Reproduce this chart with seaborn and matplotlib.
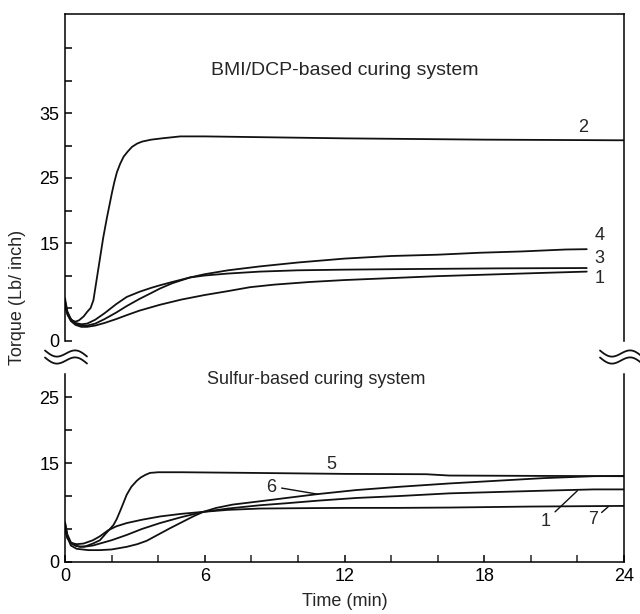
import numpy as np
import pandas as pd
import matplotlib
matplotlib.use("Agg")
import matplotlib.pyplot as plt
from matplotlib.lines import Line2D
from matplotlib.ticker import FixedLocator, FixedFormatter
import seaborn as sns

# ---------------- data ----------------
# BMI/DCP-based curing system (top panel)
t_top2 = [0, 0.15, 0.3, 0.45, 0.6, 0.8, 0.95, 1.1, 1.22, 1.43, 1.64, 1.8, 1.93, 2.02, 2.12,
          2.23, 2.37, 2.52, 2.7, 2.88, 3.1, 3.31, 3.7, 4.16, 4.95, 6, 8, 10, 12, 15, 18, 21, 24]
y_top2 = [5.2, 3.8, 3.1, 2.9, 3.1, 3.7, 4.4, 5.0, 6.2, 11.0, 15.8, 18.9, 21.2, 22.8, 24.4,
          25.9, 27.2, 28.3, 29.1, 29.8, 30.3, 30.6, 30.9, 31.1, 31.4, 31.4, 31.3, 31.2, 31.1,
          31.0, 30.9, 30.85, 30.8]

t_top4 = [0, 0.1, 0.25, 0.45, 0.7, 0.95, 1.3, 1.7, 2.2, 2.65, 3.2, 3.7, 4.08, 4.6, 5.37, 6,
          7, 8.37, 10, 12, 14, 16, 17.8, 19.6, 21.5, 22.4]
y_top4 = [6.5, 4.5, 3.3, 2.6, 2.3, 2.3, 2.6, 3.3, 4.3, 5.3, 6.4, 7.3, 8.0, 8.8, 9.7, 10.2,
          10.8, 11.4, 12.0, 12.6, 13.0, 13.2, 13.5, 13.7, 14.0, 14.05]

t_top3 = [0, 0.1, 0.25, 0.45, 0.7, 0.95, 1.3, 1.7, 2.2, 2.65, 3.2, 3.7, 4.08, 4.6, 5.37, 6,
          7, 8.37, 10, 12, 15, 18.7, 22.4]
y_top3 = [6.0, 4.3, 3.2, 2.7, 2.5, 2.6, 3.2, 4.2, 5.6, 6.7, 7.5, 8.1, 8.5, 9.0, 9.7, 10.0,
          10.3, 10.6, 10.8, 10.9, 11.0, 11.1, 11.15]

t_top1 = [0, 0.1, 0.25, 0.45, 0.7, 0.95, 1.3, 1.7, 2.2, 2.65, 3.2, 4.08, 5, 6, 7, 7.94, 9,
          10.5, 12, 14, 16, 18.7, 20.5, 22.4]
y_top1 = [5.5, 4.0, 3.0, 2.4, 2.1, 2.1, 2.3, 2.7, 3.3, 3.9, 4.6, 5.5, 6.3, 7.0, 7.6, 8.2, 8.6,
          9.0, 9.3, 9.6, 9.9, 10.2, 10.4, 10.6]

# Sulfur-based curing system (bottom panel)
t_bot5 = [0, 0.1, 0.25, 0.45, 0.64, 0.9, 1.2, 1.5, 1.75, 1.93, 2.08, 2.22, 2.4, 2.65, 2.85,
          3.08, 3.25, 3.45, 3.65, 4, 5, 8, 12, 15.5, 16.5, 20, 24]
y_bot5 = [6.0, 4.2, 3.0, 2.5, 2.3, 2.4, 2.8, 3.3, 4.3, 5.0, 5.6, 6.5, 8.0, 10.2, 11.4, 12.3,
          12.8, 13.2, 13.5, 13.6, 13.6, 13.5, 13.35, 13.3, 13.1, 13.05, 13.0]

t_bot6 = [0, 0.1, 0.25, 0.5, 1.0, 1.5, 2.0, 2.65, 3.1, 3.5, 4.08, 4.5, 5.0, 5.5, 5.94, 6.5,
          7.2, 8.37, 9.5, 10.88, 12.5, 14.38, 16.5, 18.5, 20.5, 22.7, 24]
y_bot6 = [6.0, 3.8, 2.5, 2.0, 1.8, 1.8, 1.9, 2.3, 2.7, 3.2, 4.3, 5.1, 6.0, 6.9, 7.6, 8.2, 8.7,
          9.2, 9.7, 10.3, 10.9, 11.4, 11.9, 12.3, 12.7, 13.0, 13.05]

t_bot1 = [0, 0.1, 0.25, 0.5, 0.8, 1.2, 1.6, 2.0, 2.65, 3.3, 4.08, 5.0, 5.94, 7.0, 8.37, 9.5,
          10.88, 12.5, 14.38, 16.5, 18.5, 20.5, 22.7, 24]
y_bot1 = [5.5, 3.8, 2.8, 2.4, 2.3, 2.5, 2.9, 3.3, 4.1, 5.0, 5.9, 6.8, 7.6, 8.1, 8.6, 8.9, 9.3,
          9.7, 10.0, 10.4, 10.6, 10.8, 11.0, 11.0]

t_bot7 = [0, 0.1, 0.25, 0.5, 0.8, 1.2, 1.5, 1.85, 2.2, 2.65, 3.3, 4.08, 5.0, 5.94, 7.0, 8.37,
          10, 12, 14.38, 16.5, 20, 24]
y_bot7 = [5.0, 3.6, 2.9, 2.7, 2.8, 3.3, 3.9, 4.8, 5.4, 5.9, 6.4, 6.9, 7.3, 7.6, 7.9, 8.1, 8.15,
          8.2, 8.2, 8.25, 8.4, 8.5]

x_major = [0, 6, 12, 18, 24]
top_yticks = [0, 5, 10, 15, 20, 25, 30, 35, 40, 45]
top_ylabels = ["0", "", "", "15", "", "25", "", "35", "", ""]
bot_yticks = [0, 5, 10, 15, 20, 25]
bot_ylabels = ["0", "", "", "15", "", "25"]

top_title = "BMI/DCP-based curing system"
bot_title = "Sulfur-based curing system"
xlabel = "Time (min)"
ylabel = "Torque (Lb/ inch)"

# ---------------- style ----------------
sns.set_style("ticks")
plt.rcParams["font.family"] = ["Liberation Sans", "DejaVu Sans"]
plt.rcParams["font.size"] = 13

W, H = 640, 614
fig = plt.figure(figsize=(W / 100, H / 100), dpi=100)

def fx(px):
    return px / W

def fy(py):
    return 1 - py / H

# top axes: y=0 at py 340.5, 6.5 px/unit, top frame at py 14
top_ylim = (0, (340.5 - 14) / 6.5)
ax_t = fig.add_axes([fx(65), fy(340.5), fx(624) - fx(65), fy(14) - fy(340.5)])
# bottom axes: y=0 at py 562, 6.6 px/unit
bot_top_val = 28.5
ax_b = fig.add_axes([fx(65), fy(562), fx(624) - fx(65), bot_top_val * 6.6 / H])

lw = 1.3
col = "#111111"
for t, y in [(t_top2, y_top2), (t_top4, y_top4), (t_top3, y_top3), (t_top1, y_top1)]:
    sns.lineplot(x=t, y=y, ax=ax_t, color=col, lw=lw, estimator=None, sort=False)
for t, y in [(t_bot5, y_bot5), (t_bot6, y_bot6), (t_bot1, y_bot1), (t_bot7, y_bot7)]:
    sns.lineplot(x=t, y=y, ax=ax_b, color=col, lw=lw, estimator=None, sort=False)

for ax in (ax_t, ax_b):
    ax.set_xlim(0, 24)
    for s in ax.spines.values():
        s.set_linewidth(1.1)
        s.set_color("black")
    ax.tick_params(direction="in", length=5, width=1.1, colors="black", labelsize=13, pad=4)

ax_t.set_ylim(*top_ylim)
ax_t.spines["bottom"].set_visible(False)
ax_t.set_xticks([])
ax_t.yaxis.set_major_locator(FixedLocator(top_yticks))
ax_t.yaxis.set_major_formatter(FixedFormatter(top_ylabels))

ax_b.set_ylim(0, bot_top_val)
ax_b.spines["top"].set_visible(False)
ax_b.set_xticks(x_major)
ax_b.set_xticklabels([str(v) for v in x_major])
ax_b.set_xticks(np.arange(0, 25, 2), minor=True)
ax_b.tick_params(axis="x", which="minor", direction="in", length=5, width=1.1)
ax_b.yaxis.set_major_locator(FixedLocator(bot_yticks))
ax_b.yaxis.set_major_formatter(FixedFormatter(bot_ylabels))

for ax in (ax_t, ax_b):
    ax.set_xlabel("")
    ax.set_ylabel("")

# panel titles
ax_t.text(12.0, 41.5, top_title, ha="center", va="center", fontsize=14)
ax_b.text(10.8, 27.6, bot_title, ha="center", va="center", fontsize=13, clip_on=False)

# curve labels
ax_t.text(22.24, 32.7, "2", ha="center", va="center", fontsize=13)
ax_t.text(22.95, 16.2, "4", ha="center", va="center", fontsize=13)
ax_t.text(22.95, 12.6, "3", ha="center", va="center", fontsize=13)
ax_t.text(22.95, 9.6, "1", ha="center", va="center", fontsize=13)

ax_b.text(11.45, 14.7, "5", ha="center", va="center", fontsize=13)
ax_b.text(8.87, 11.3, "6", ha="center", va="center", fontsize=13)
ax_b.plot([9.3, 10.88], [11.2, 10.26], color=col, lw=1.0)
ax_b.text(20.65, 6.1, "1", ha="center", va="center", fontsize=13)
ax_b.plot([21.04, 22.0], [7.6, 10.8], color=col, lw=1.0)
ax_b.text(22.68, 6.5, "7", ha="center", va="center", fontsize=13)
ax_b.plot([23.04, 23.33], [7.5, 8.4], color=col, lw=1.0)

# axis labels
fig.text(fx(344.5), fy(601), xlabel, ha="center", va="center", fontsize=13)
fig.text(fx(18), fy(297), ylabel, ha="center", va="center", rotation=90, fontsize=13)

# break marks
u = np.linspace(-1, 1, 60)
def brk(cx, cy, half=21, amp=4.5, gap=7):
    for off in (-gap / 2, gap / 2):
        xs = cx + u * half
        ys = cy + off - amp * np.sin(np.pi * u) + 3 * u
        fig.add_artist(Line2D(fx(xs), fy(ys), color=col, lw=1.3, transform=fig.transFigure))

brk(66, 357)
brk(621, 357)

fig.savefig("out.png", dpi=100)
